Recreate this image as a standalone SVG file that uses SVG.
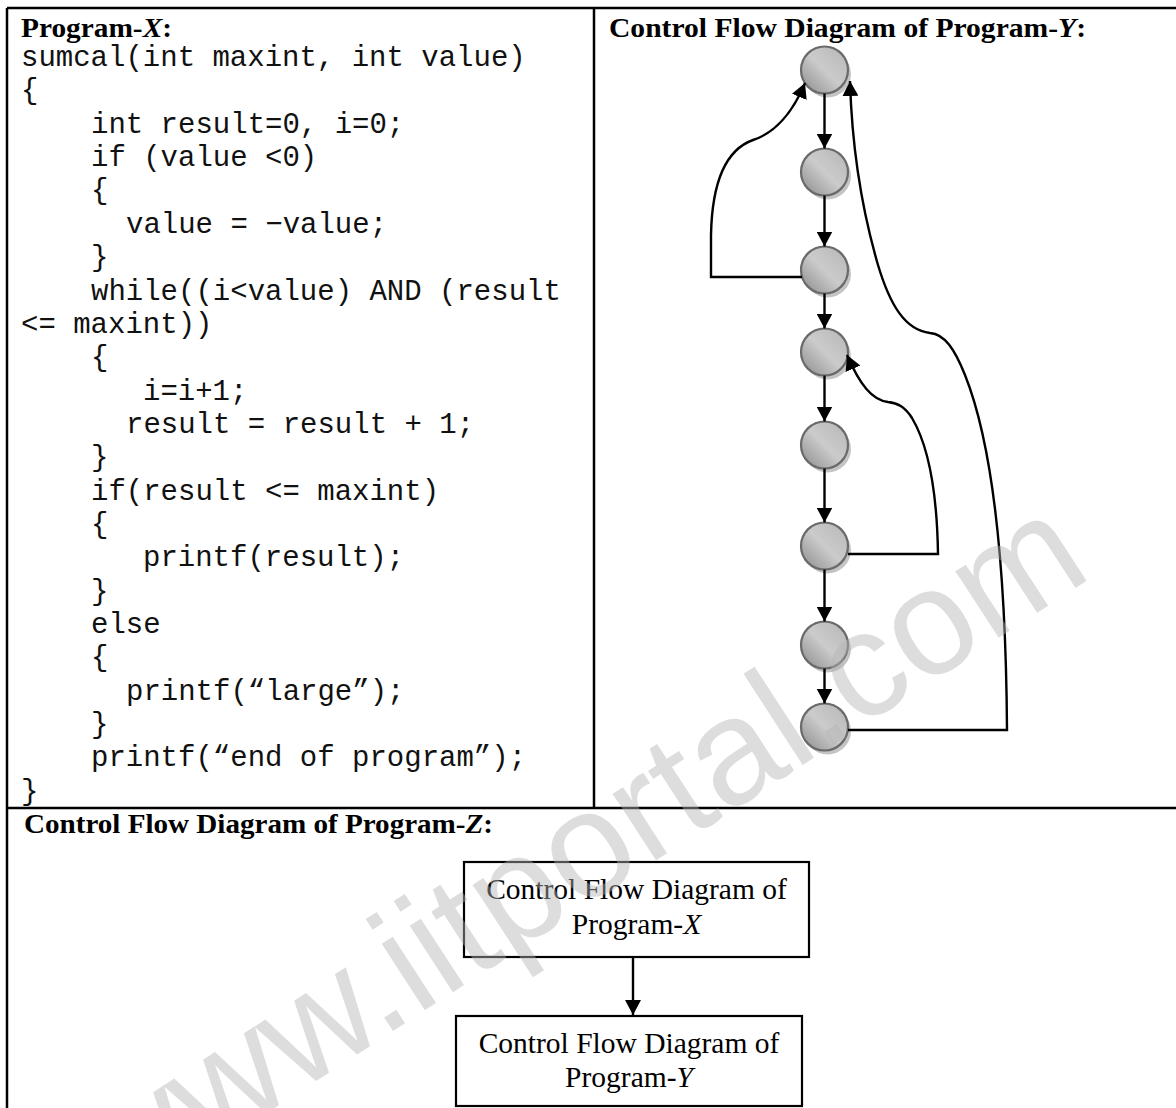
<svg xmlns="http://www.w3.org/2000/svg" width="1176" height="1108" viewBox="0 0 1176 1108">
<style>
.code{font-family:"Liberation Mono","Courier New",monospace;font-size:29px;fill:#111}
.head{font-family:"Liberation Serif","Times New Roman",serif;font-size:28px;font-weight:bold;fill:#000}
.box{font-family:"Liberation Serif","Times New Roman",serif;font-size:29.5px;fill:#000}
.it{font-style:italic}
.grid{stroke:#000;stroke-width:2.5;fill:none}
.edge{stroke:#000;stroke-width:2.4;fill:none}
.shadow{fill:#c4c4c4}
.node{fill:url(#ng);stroke:#6a6a6a;stroke-width:2.2}
.rect{fill:#fff;stroke:#000;stroke-width:2.2}
.wm{font-family:"Liberation Sans",Arial,sans-serif;font-size:150px;fill:#b4b4b4;fill-opacity:0.45}
</style>
<defs>
<linearGradient id="ng" x1="0" y1="1" x2="1" y2="0">
<stop offset="0" stop-color="#8a8a8a"/>
<stop offset="0.5" stop-color="#cbcbcb"/>
<stop offset="1" stop-color="#b6b6b6"/>
</linearGradient>
<marker id="ah" viewBox="0 0 15 16" refX="15" refY="8" markerWidth="15" markerHeight="16" markerUnits="userSpaceOnUse" orient="auto">
<path d="M0,0 L15,8 L0,16 z" fill="#000"/>
</marker>
</defs>
<rect width="1176" height="1108" fill="#fff"/>
<g id="table">
<line class="grid" x1="7" y1="8" x2="1176" y2="8"/>
<line class="grid" x1="7" y1="8" x2="7" y2="1108"/>
<line class="grid" x1="594" y1="8" x2="594" y2="808"/>
<line class="grid" x1="7" y1="808" x2="1176" y2="808"/>
</g>
<g id="program-x">
<text class="head" x="21" y="37" textLength="151" lengthAdjust="spacingAndGlyphs">Program-<tspan class="it">X</tspan>:</text>
<text class="code" x="21" y="66">sumcal(int maxint, int value)</text>
<text class="code" x="21" y="99.4">{</text>
<text class="code" x="91" y="132.7">int result=0, i=0;</text>
<text class="code" x="91" y="166">if (value &lt;0)</text>
<text class="code" x="91" y="199.4">{</text>
<text class="code" x="126" y="232.8">value = −value;</text>
<text class="code" x="91" y="266.1">}</text>
<text class="code" x="91" y="299.5">while((i&lt;value) AND (result</text>
<text class="code" x="21" y="332.8">&lt;= maxint))</text>
<text class="code" x="91" y="366.2">{</text>
<text class="code" x="143" y="399.5">i=i+1;</text>
<text class="code" x="126" y="432.9">result = result + 1;</text>
<text class="code" x="91" y="466.2">}</text>
<text class="code" x="91" y="499.6">if(result &lt;= maxint)</text>
<text class="code" x="91" y="532.9">{</text>
<text class="code" x="143" y="566.3">printf(result);</text>
<text class="code" x="91" y="599.6">}</text>
<text class="code" x="91" y="633">else</text>
<text class="code" x="91" y="666.3">{</text>
<text class="code" x="126" y="699.7">printf(“large”);</text>
<text class="code" x="91" y="733">}</text>
<text class="code" x="91" y="766.4">printf(“end of program”);</text>
<text class="code" x="21" y="799.7">}</text>
</g>
<text class="head" x="609" y="37" textLength="477" lengthAdjust="spacingAndGlyphs">Control Flow Diagram of Program-<tspan class="it">Y</tspan>:</text>
<g id="n1"><circle class="shadow" cx="827.5" cy="74" r="23.5"/><circle class="node" cx="824.5" cy="70" r="23.5"/></g>
<g id="n2"><circle class="shadow" cx="827.5" cy="176" r="23.5"/><circle class="node" cx="824.5" cy="172" r="23.5"/></g>
<g id="n3"><circle class="shadow" cx="827.5" cy="274" r="23.5"/><circle class="node" cx="824.5" cy="270" r="23.5"/></g>
<g id="n4"><circle class="shadow" cx="827.5" cy="356" r="23.5"/><circle class="node" cx="824.5" cy="352" r="23.5"/></g>
<g id="n5"><circle class="shadow" cx="827.5" cy="449" r="23.5"/><circle class="node" cx="824.5" cy="445" r="23.5"/></g>
<g id="n6"><circle class="shadow" cx="827.5" cy="550" r="23.5"/><circle class="node" cx="824.5" cy="546" r="23.5"/></g>
<g id="n7"><circle class="shadow" cx="827.5" cy="649" r="23.5"/><circle class="node" cx="824.5" cy="645" r="23.5"/></g>
<g id="n8"><circle class="shadow" cx="827.5" cy="731" r="23.5"/><circle class="node" cx="824.5" cy="727" r="23.5"/></g>
<g id="connectors-y" marker-end="url(#ah)">
<line class="edge" x1="824.5" y1="93.5" x2="824.5" y2="148.5"/>
<line class="edge" x1="824.5" y1="195.5" x2="824.5" y2="246.5"/>
<line class="edge" x1="824.5" y1="293.5" x2="824.5" y2="328.5"/>
<line class="edge" x1="824.5" y1="375.5" x2="824.5" y2="421.5"/>
<line class="edge" x1="824.5" y1="468.5" x2="824.5" y2="522.5"/>
<line class="edge" x1="824.5" y1="569.5" x2="824.5" y2="621.5"/>
<line class="edge" x1="824.5" y1="668.5" x2="824.5" y2="703.5"/>
<path class="edge" d="M802 277 L711 277 L711 235 C712 185 725 150 753 140 C775 133 793 112 805 83"/>
<path class="edge" d="M848 554 L938 554 C937 490 928 445 912 418 C905 407 898 403 888 402 C872 400 860 385 847 355"/>
<path class="edge" d="M848 730 L1007 730 C1006 580 995 450 965 375 C955 350 945 334 930 333 C905 330 890 305 878 265 C862 210 852 150 850 81"/>
</g>
<text class="head" x="24" y="833" textLength="469" lengthAdjust="spacingAndGlyphs">Control Flow Diagram of Program-<tspan class="it">Z</tspan>:</text>
<g id="box-x">
<rect class="rect" x="464" y="862" width="345" height="95"/>
<text class="box" x="636.5" y="899" text-anchor="middle">Control Flow Diagram of</text>
<text class="box" x="636.5" y="934" text-anchor="middle">Program-<tspan class="it">X</tspan></text>
</g>
<g id="box-y">
<rect class="rect" x="456" y="1016" width="346" height="90"/>
<text class="box" x="629" y="1053" text-anchor="middle">Control Flow Diagram of</text>
<text class="box" x="629" y="1087" text-anchor="middle">Program-<tspan class="it">Y</tspan></text>
</g>
<g id="connectors-z">
<line class="edge" x1="633" y1="957" x2="633" y2="1015" marker-end="url(#ah)"/>
</g>
<text class="wm" x="116" y="1211" transform="rotate(-33 116 1211)">www.iitportal.com</text>
</svg>
